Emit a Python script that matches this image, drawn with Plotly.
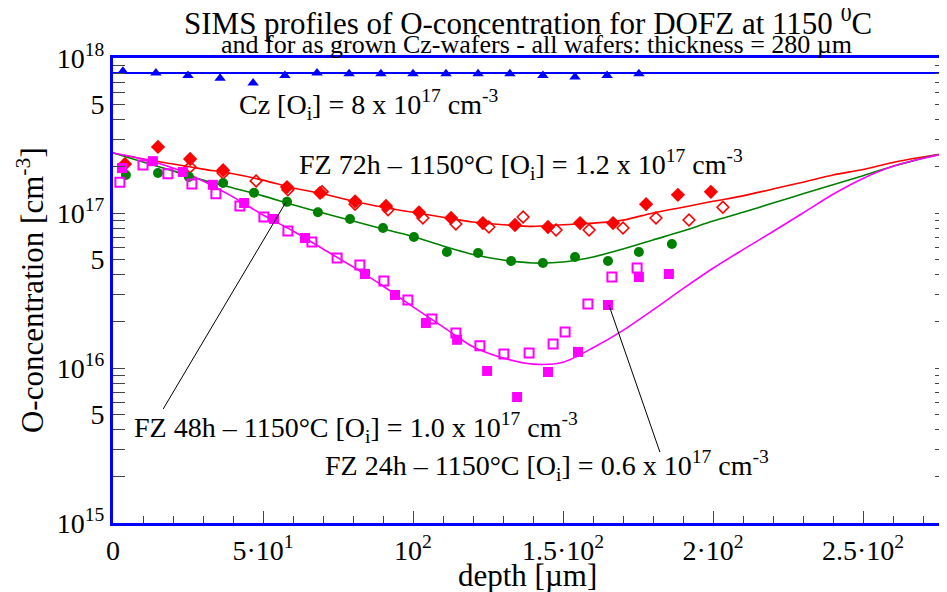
import plotly.graph_objects as go

# ---------------- data ----------------
depth_grid = [0, 10, 20, 30, 40, 50, 60, 70, 80, 90, 100, 110, 120, 130, 140,
              150, 160, 170, 180, 190, 200, 210, 220, 230, 240, 250, 260, 270, 280]

fz72_fit = [2.44e17, 2.23e17, 2.07e17, 1.92e17, 1.79e17, 1.63e17, 1.45e17, 1.33e17, 1.19e17,
            1.09e17, 1.01e17, 9.4e16, 8.75e16, 8.4e16, 8.2e16, 8.4e16, 8.6e16, 9.0e16, 1.0e17,
            1.09e17, 1.19e17, 1.29e17, 1.43e17, 1.58e17, 1.76e17, 1.91e17, 2.12e17, 2.30e17, 2.48e17]
fz48_fit = [2.44e17, 2.13e17, 1.87e17, 1.63e17, 1.45e17, 1.29e17, 1.13e17, 1.0e17, 8.87e16,
            7.88e16, 7.05e16, 6.12e16, 5.4e16, 4.98e16, 4.76e16, 4.83e16, 5.20e16, 5.86e16, 6.70e16,
            7.65e16, 8.87e16, 1.01e17, 1.16e17, 1.33e17, 1.52e17, 1.74e17, 2.0e17, 2.26e17, 2.48e17]
fz24_fit = [2.44e17, 2.23e17, 1.95e17, 1.61e17, 1.27e17, 9.71e16, 7.65e16, 5.86e16, 4.49e16,
            3.38e16, 2.48e16, 1.84e16, 1.37e16, 1.16e16, 1.06e16, 1.09e16, 1.35e16, 1.75e16, 2.37e16,
            3.25e16, 4.4e16, 5.8e16, 7.6e16, 1.0e17, 1.32e17, 1.67e17, 2.0e17, 2.25e17, 2.48e17]

fz72_filled_x = [4, 15, 25.7, 36.7, 58, 69, 80.7, 91, 102, 112.7, 123.3, 134, 145, 155.7, 166.7, 177.7, 188.3, 199.3]
fz72_filled_y = [2.07e17, 2.67e17, 2.23e17, 1.89e17, 1.47e17, 1.35e17, 1.19e17, 1.11e17, 1.01e17,
                 9.29e16, 8.61e16, 8.37e16, 8.12e16, 8.61e16, 8.61e16, 1.14e17, 1.31e17, 1.37e17]
fz72_open_x = [25.7, 36.7, 47.7, 58.3, 69.7, 80.7, 91.7, 103.3, 114.3, 125.3, 136.7, 147.7, 158.7, 170, 181, 192, 203.3]
fz72_open_y = [1.98e17, 1.81e17, 1.61e17, 1.41e17, 1.37e17, 1.14e17, 1.05e17, 9.29e16, 8.49e16,
               8.12e16, 9.42e16, 7.77e16, 7.77e16, 8.0e16, 9.29e16, 9.01e16, 1.09e17]

fz48_x = [4.3, 15, 25.3, 36.7, 47, 58, 68.3, 79, 90, 100.3, 111.3, 121.7, 132.7, 143.3, 154, 165, 175.3, 186.3]
fz48_y = [1.76e17, 1.81e17, 1.71e17, 1.56e17, 1.35e17, 1.18e17, 1.01e17, 9.15e16, 8.0e16,
          7.0e16, 5.6e16, 5.52e16, 4.90e16, 4.76e16, 5.2e16, 4.90e16, 5.6e16, 6.31e16]

fz24_filled_x = [3, 13.3, 23.3, 33.3, 43.7, 53.7, 64, 84, 94, 104.3, 114.7, 124.7, 134.7, 145, 155, 165, 175.3, 185.3]
fz24_filled_y = [1.95e17, 2.16e17, 1.84e17, 1.52e17, 1.16e17, 9.15e16, 6.9e16, 4.04e16, 2.96e16,
                 1.95e16, 1.52e16, 9.57e15, 6.5e15, 9.42e15, 1.27e16, 2.55e16, 3.86e16, 4.04e16]
fz24_open_x = [2.3, 10, 18.3, 26.3, 34.3, 42.3, 50.3, 58.3, 66.3, 74.7, 82.3, 90.3, 98.3, 106.3,
               114.3, 122.3, 130.3, 138.7, 146.7, 150.7, 158.3, 166.3, 174.7]
fz24_open_y = [1.58e17, 2.04e17, 1.79e17, 1.54e17, 1.33e17, 1.11e17, 9.42e16, 7.65e16, 6.5e16,
               5.13e16, 4.62e16, 3.64e16, 2.75e16, 2.07e16, 1.68e16, 1.39e16, 1.23e16, 1.25e16,
               1.43e16, 1.71e16, 2.59e16, 3.86e16, 4.42e16]

cz_x = [3.3, 14.3, 25, 35.7, 46.7, 57.3, 68, 78.7, 89.3, 100, 111, 121.7, 132.3, 143.3, 154, 164.7, 175.3]
cz_y = [8.2e17, 8.0e17, 7.7e17, 7.4e17, 6.9e17, 7.7e17, 8.0e17, 7.9e17, 7.9e17,
        7.9e17, 7.9e17, 7.9e17, 7.9e17, 7.7e17, 7.55e17, 7.7e17, 7.9e17]
cz_level = 8e17

# axis ticks
x_tickvals = [0, 50, 100, 150, 200, 250]
x_ticktext = ["0", "5·10<sup>1</sup>", "10<sup>2</sup>", "1.5·10<sup>2</sup>",
              "2·10<sup>2</sup>", "2.5·10<sup>2</sup>"]
y_tickvals = [m * 10 ** e for e in (15, 16, 17) for m in range(1, 10)] + [1e18]
y_label_map = {1e15: "10<sup>15</sup>", 5e15: "5", 1e16: "10<sup>16</sup>", 5e16: "5",
               1e17: "10<sup>17</sup>", 5e17: "5", 1e18: "10<sup>18</sup>"}

# pointer lines (depth, concentration)
ptr48_x = [16.7, 57.7]
ptr48_y = [5.43e15, 1.18e17]
ptr24_x = [182.3, 165.3]
ptr24_y = [2.87e15, 2.55e16]

# ---------------- figure ----------------
FONT = "Liberation Serif"
RED, GREEN, MAG, BLUE = "#ff0000", "#008000", "#ff00ff", "#0000ff"

fig = go.Figure()

fig.add_trace(go.Scatter(x=[0, 280], y=[cz_level, cz_level], mode="lines",
                         line=dict(color=BLUE, width=2), showlegend=False))
fig.add_trace(go.Scatter(x=cz_x, y=cz_y, mode="markers",
                         marker=dict(symbol="triangle-up", size=10, color=BLUE), showlegend=False))

for ys, col in ((fz72_fit, RED), (fz48_fit, GREEN), (fz24_fit, MAG)):
    fig.add_trace(go.Scatter(x=depth_grid, y=ys, mode="lines",
                             line=dict(color=col, width=1.6, shape="spline", smoothing=0.8),
                             showlegend=False))

fig.add_trace(go.Scatter(x=fz72_open_x, y=fz72_open_y, mode="markers",
                         marker=dict(symbol="diamond-open", size=9, color=RED, line=dict(width=1.6)),
                         showlegend=False))
fig.add_trace(go.Scatter(x=fz72_filled_x, y=fz72_filled_y, mode="markers",
                         marker=dict(symbol="diamond", size=11, color=RED), showlegend=False))
fig.add_trace(go.Scatter(x=fz48_x, y=fz48_y, mode="markers",
                         marker=dict(symbol="circle", size=10, color=GREEN), showlegend=False))
fig.add_trace(go.Scatter(x=fz24_open_x, y=fz24_open_y, mode="markers",
                         marker=dict(symbol="square-open", size=9, color=MAG, line=dict(width=2)),
                         showlegend=False))
fig.add_trace(go.Scatter(x=fz24_filled_x, y=fz24_filled_y, mode="markers",
                         marker=dict(symbol="square", size=10, color=MAG), showlegend=False))

fig.add_trace(go.Scatter(x=ptr48_x, y=ptr48_y, mode="lines", line=dict(color="black", width=1),
                         showlegend=False))
fig.add_trace(go.Scatter(x=ptr24_x, y=ptr24_y, mode="lines", line=dict(color="black", width=1),
                         showlegend=False))
# invisible trace to activate right-side tick axis
fig.add_trace(go.Scatter(x=[0], y=[1e16], yaxis="y2", mode="markers", marker=dict(opacity=0),
                         showlegend=False, hoverinfo="skip"))

# page body has an 8px margin -> figure is 939x584 so the plot lands at 113..947 x 58..523
fig.update_layout(
    width=939, height=584,
    margin=dict(l=105, r=0, t=50, b=69),
    paper_bgcolor="white", plot_bgcolor="white",
    font=dict(family=FONT, size=26, color="black"),
    showlegend=False,
    xaxis=dict(range=[0, 278], showgrid=False, zeroline=False,
               showline=True, linecolor=BLUE, linewidth=3, mirror=True,
               ticks="inside", ticklen=12, tickcolor="#444", tickwidth=1,
               tickvals=x_tickvals, ticktext=x_ticktext,
               tickfont=dict(family=FONT, size=28),
               minor=dict(dtick=10, ticks="inside", ticklen=7, tickcolor="#444", showgrid=False)),
    yaxis=dict(type="log", range=[15, 18], showgrid=False, zeroline=False,
               showline=True, linecolor=BLUE, linewidth=3,
               ticks="inside", ticklen=12, tickcolor="#444", tickwidth=1,
               tickvals=y_tickvals, ticktext=[y_label_map.get(v, "") for v in y_tickvals],
               tickfont=dict(family=FONT, size=28)),
    yaxis2=dict(type="log", range=[15, 18], overlaying="y", side="right", showgrid=False,
                zeroline=False, showline=False, ticks="inside", ticklen=12, tickcolor="#444",
                tickvals=y_tickvals, showticklabels=False),
)

ann = []
ann.append(dict(text="SIMS profiles of O-concentration for DOFZ at 1150 <sup>0</sup>C",
                xref="paper", yref="paper", x=0.4976, y=1.078, xanchor="center", yanchor="middle",
                showarrow=False, font=dict(family=FONT, size=31)))
ann.append(dict(text="and for as grown Cz-wafers - all wafers: thickness = 280 µm",
                xref="paper", yref="paper", x=0.508, y=1.028, xanchor="center", yanchor="middle",
                showarrow=False, font=dict(family=FONT, size=26)))
ann.append(dict(text="O-concentration [cm<sup>-3</sup>]", textangle=-90,
                xref="paper", yref="paper", x=-0.0995, y=0.501, xanchor="center", yanchor="middle",
                showarrow=False, font=dict(family=FONT, size=31)))
ann.append(dict(text="depth [µm]", xref="paper", yref="paper", x=0.4976, y=-0.112,
                xanchor="center", yanchor="middle", showarrow=False, font=dict(family=FONT, size=31)))

ann.append(dict(text="Cz [O<sub>i</sub>] = 8 x 10<sup>17</sup> cm<sup>-3</sup>",
                xref="x", yref="y", x=41.3, y=17.697, xanchor="left", yanchor="middle",
                showarrow=False, font=dict(family=FONT, size=28)))
ann.append(dict(text="FZ 72h – 1150°C [O<sub>i</sub>] = 1.2 x 10<sup>17</sup> cm<sup>-3</sup>",
                xref="x", yref="y", x=61.3, y=17.31, xanchor="left", yanchor="middle",
                showarrow=False, font=dict(family=FONT, size=28)))
ann.append(dict(text="FZ 48h – 1150°C [O<sub>i</sub>] = 1.0 x 10<sup>17</sup> cm<sup>-3</sup>",
                xref="x", yref="y", x=6.3, y=15.619, xanchor="left", yanchor="middle",
                showarrow=False, font=dict(family=FONT, size=28)))
ann.append(dict(text="FZ 24h – 1150°C [O<sub>i</sub>] = 0.6 x 10<sup>17</sup> cm<sup>-3</sup>",
                xref="x", yref="y", x=70, y=15.374, xanchor="left", yanchor="middle",
                showarrow=False, font=dict(family=FONT, size=28)))
fig.update_layout(annotations=ann)

fig.write_html("out.html")
